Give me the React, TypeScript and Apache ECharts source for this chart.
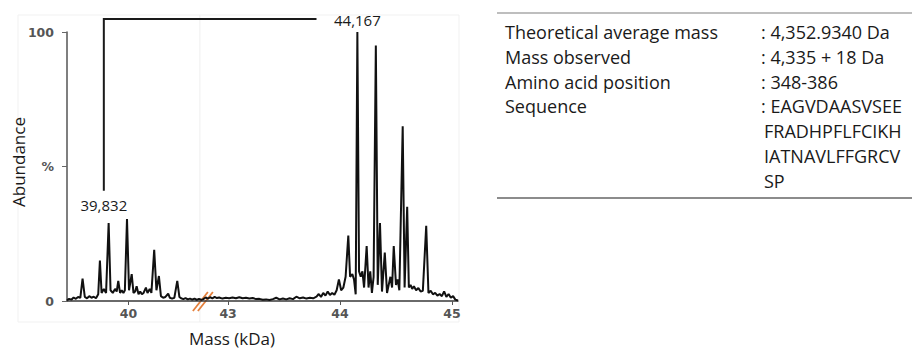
import React, { useEffect, useRef } from "react";
import * as echarts from "echarts";

// Mass spectrum (mass in kDa, relative abundance in %)
const massKDa = [
  39.451, 39.47, 39.49, 39.51, 39.53, 39.55, 39.57, 39.59, 39.61, 39.63, 39.65, 39.67, 39.69, 39.71, 39.73,
  39.745, 39.76, 39.78, 39.8, 39.823, 39.84, 39.86, 39.88, 39.895, 39.909, 39.925, 39.94, 39.955, 39.968,
  39.987, 40.005, 40.029, 40.045, 40.06, 40.073, 40.09, 40.105, 40.12, 40.135, 40.156, 40.17, 40.19, 40.205,
  40.23, 40.25, 40.272, 40.29, 40.31, 40.33, 40.355, 40.37, 40.39, 40.41, 40.436, 40.455, 40.47, 40.49, 40.51,
  40.53, 40.55, 40.57, 40.59, 40.61, 40.63, 40.65, 40.665,
  42.775, 42.8, 42.82, 42.84, 42.86, 42.88, 42.9, 42.92, 42.95, 42.98, 43.01, 43.04, 43.07, 43.1, 43.13, 43.16,
  43.19, 43.22, 43.25, 43.28, 43.31, 43.34, 43.37, 43.4, 43.43, 43.46, 43.49, 43.52, 43.55, 43.58, 43.61, 43.64,
  43.67, 43.7, 43.73, 43.76, 43.79, 43.81, 43.83, 43.85, 43.87, 43.89, 43.91, 43.93, 43.95, 43.97, 43.99, 44.01,
  44.03, 44.05, 44.074, 44.09, 44.11, 44.125, 44.14, 44.155, 44.17, 44.185, 44.2, 44.215, 44.238, 44.255, 44.27,
  44.285, 44.3, 44.32, 44.337, 44.357, 44.375, 44.4, 44.42, 44.435, 44.45, 44.465, 44.48, 44.5, 44.515, 44.53,
  44.56, 44.577, 44.6, 44.615, 44.63, 44.645, 44.66, 44.68, 44.7, 44.72, 44.74, 44.77, 44.79, 44.81, 44.83, 44.85,
  44.87, 44.89, 44.91, 44.93, 44.95, 44.97, 44.99, 45.01, 45.03, 45.054,
];
const abundance = [
  0.3, 0.8, 0.5, 1.3, 0.8, 1.5, 1.2, 8.3, 1.5, 1.0, 1.8, 1.2, 1.6, 1.0, 2.5,
  15, 3, 4.5, 3, 29, 4, 3, 4.5, 3.5, 7.5, 3, 4, 3, 4,
  30.5, 4, 10, 3, 3.5, 5.5, 2.5, 3.5, 2.5, 3, 5, 3, 4.5, 3,
  19, 4, 9.3, 1.8, 1.2, 1.5, 2.7, 1.2, 0.9, 1.2, 7.5, 1.5, 1.0, 0.7, 1.1,
  0.6, 0.9, 0.5, 0.9, 0.4, 0.8, 0.5, 0.6,
  0.8, 1.3, 0.9, 1.4, 1.0, 1.5, 1.1, 1.3, 0.9, 1.2, 1.0, 1.3, 1.0, 1.4, 1.0, 1.2,
  0.9, 1.1, 0.7, 0.8, 0.5, 0.6, 0.4, 0.7, 1.2, 0.6, 0.9, 0.6, 1.0, 0.7, 1.6, 1.0,
  1.3, 0.9, 1.2, 1.0, 1.6, 2.6, 1.5, 3.0, 2.0, 3.5, 2.2, 3.0, 2.3, 4.0, 8, 4,
  5, 9, 24.3, 9, 10, 8, 2.5, 100, 11, 9, 11, 5, 20.4, 5, 11,
  3, 9, 95, 6, 29, 3.5, 18, 3, 6, 9, 5, 20.4, 6, 8, 4,
  65, 5, 35, 5, 6, 4.5, 5.5, 4, 4.8, 3.5, 3.8, 28, 3, 3.8, 2.5, 3,
  2, 2.6, 1.8, 3.6, 1.5, 2.6, 1.2, 1.8, 0.5, 0.2,
];

// Broken x axis (kDa)
const breakStart = 40.665;
const breakEnd = 42.775;
const xMin = 39.451;
const xMax = 45.054;
const xTicks = [40, 43, 44, 45];
const yTicks = [0, 50, 100];
const yTickLabels = ["0", "%", "100"];

// Annotation: bracket from the 39,832 species to the 44,167 species
const peakLabels = ["39,832", "44,167"];
const bracketMass = 39.78;
const bracketBottom = 41;
const bracketTop = 104.8;
const bracketEndMass = 43.79;
const lowLabelAbund = 35.7;
const highLabelMass = 44.155;

// Table
const tableLabels = ["Theoretical average mass", "Mass observed", "Amino acid position", "Sequence"];
const tableValues = [": 4,352.9340 Da", ": 4,335 + 18 Da", ": 348-386", ": EAGVDAASVSEE"];
const sequenceContinuation = ["FRADHPFLFCIKH", "IATNAVLFFGRCV", "SP"];

export default function App() {
  const ref = useRef<HTMLDivElement>(null);

  useEffect(() => {
    document.body.style.margin = "0";
    const chart = echarts.init(ref.current!, null, { renderer: "svg" });
    const gap = breakEnd - breakStart;
    const toAxis = (m: number) => (m <= breakStart + 1e-9 ? m : m - gap);
    const fromAxis = (v: number) => (v <= breakStart + 1e-9 ? v : v + gap);
    const data = massKDa.map((m, i) => [toAxis(m), abundance[i]]);
    const tickVals = xTicks.map(toAxis);
    const labelFont = "DejaVu Sans";

    chart.setOption({
      animation: false,
      grid: { left: 67, right: 454, top: 32, bottom: 48 },
      xAxis: {
        type: "value",
        min: toAxis(xMin),
        max: toAxis(xMax),
        splitLine: { show: false },
        axisLine: { show: true, lineStyle: { color: "#3a3a3a", width: 1.5 } },
        axisTick: { show: true, customValues: tickVals, length: 4, lineStyle: { color: "#555", width: 1 } },
        axisLabel: {
          customValues: tickVals,
          margin: 6,
          fontFamily: labelFont,
          fontWeight: "bold",
          fontSize: 12.5,
          color: "#555",
          formatter: (v: number) => String(Math.round(fromAxis(v))),
        },
      },
      yAxis: {
        type: "value",
        min: 0,
        max: 100,
        interval: 50,
        splitLine: { show: false },
        axisLine: { show: true, lineStyle: { color: "#555", width: 1.5 } },
        axisTick: { show: true, length: 5, lineStyle: { color: "#666" } },
        axisLabel: {
          margin: 13,
          fontFamily: labelFont,
          fontWeight: "bold",
          fontSize: 12.5,
          color: "#555",
          formatter: (v: number) => yTickLabels[yTicks.indexOf(v)] ?? "",
        },
      },
      series: [
        {
          type: "line",
          data,
          showSymbol: false,
          symbol: "none",
          lineStyle: { color: "#111", width: 2 },
          clip: false,
        },
      ],
    });

    const px = (m: number, a: number) => chart.convertToPixel({ gridIndex: 0 }, [toAxis(m), a]) as number[];
    const b0 = px(bracketMass, bracketBottom);
    const b1 = px(bracketMass, bracketTop);
    const b2 = px(bracketEndMass, bracketTop);
    const lowLab = px(bracketMass, lowLabelAbund);
    const highLab = px(highLabelMass, bracketTop);
    const brk = px(breakStart, 0);

    const textFont = "Open Sans";
    const tStyle = (text: string, size: number, extra: any = {}) => ({
      text,
      fontFamily: textFont,
      fontSize: size,
      fill: "#1a1a1a",
      ...extra,
    });

    const rowY0 = 32;
    const rowH = 24.8;
    const tSize = 18;
    const tableGraphics: any[] = [];
    tableLabels.forEach((lab, i) => {
      tableGraphics.push({
        type: "text",
        x: 505,
        y: rowY0 + i * rowH,
        style: tStyle(lab, tSize, { verticalAlign: "middle" }),
      });
      tableGraphics.push({
        type: "text",
        x: 761,
        y: rowY0 + i * rowH,
        style: tStyle(tableValues[i], tSize, { verticalAlign: "middle" }),
      });
    });
    sequenceContinuation.forEach((s, j) => {
      tableGraphics.push({
        type: "text",
        x: 764,
        y: rowY0 + (tableLabels.length + j) * rowH,
        style: tStyle(s, tSize, { verticalAlign: "middle" }),
      });
    });

    chart.setOption({
      graphic: [
        // faint frame of the original figure
        {
          type: "rect",
          shape: { x: 18, y: 15, width: 441, height: 307 },
          style: { fill: "none", stroke: "#f1f1f1", lineWidth: 1 },
          silent: true,
        },
        {
          type: "line",
          shape: { x1: brk[0] - 3, y1: 15, x2: brk[0] - 3, y2: 322 },
          style: { stroke: "#efefef", lineWidth: 1 },
          silent: true,
        },
        // bracket
        {
          type: "polyline",
          shape: { points: [b0, b1, b2] },
          style: { stroke: "#1a1a1a", lineWidth: 2, fill: "none" },
        },
        {
          type: "text",
          x: lowLab[0],
          y: lowLab[1],
          style: tStyle(peakLabels[0], 15, { align: "center", verticalAlign: "middle" }),
        },
        {
          type: "text",
          x: highLab[0],
          y: highLab[1] + 1,
          style: tStyle(peakLabels[1], 15, { align: "center", verticalAlign: "middle" }),
        },
        // axis break marks
        {
          type: "line",
          shape: { x1: brk[0] - 10, y1: brk[1] + 10, x2: brk[0] + 5, y2: brk[1] - 9 },
          style: { stroke: "#e5803c", lineWidth: 1.8 },
        },
        {
          type: "line",
          shape: { x1: brk[0] - 5, y1: brk[1] + 10, x2: brk[0] + 10, y2: brk[1] - 9 },
          style: { stroke: "#e5803c", lineWidth: 1.8 },
        },
        // axis names
        {
          type: "text",
          x: 232,
          y: 338,
          style: tStyle("Mass (kDa)", 17, { align: "center", verticalAlign: "middle" }),
        },
        {
          type: "text",
          x: 18,
          y: 162,
          rotation: Math.PI / 2,
          style: tStyle("Abundance", 17, { align: "center", verticalAlign: "middle" }),
        },
        // table rules
        {
          type: "line",
          shape: { x1: 497, y1: 13, x2: 912, y2: 13 },
          style: { stroke: "#a8a8a8", lineWidth: 1.5 },
        },
        {
          type: "line",
          shape: { x1: 497, y1: 198, x2: 912, y2: 198 },
          style: { stroke: "#666", lineWidth: 1.5 },
        },
        ...tableGraphics,
      ],
    });

    return () => chart.dispose();
  }, []);

  return <div ref={ref} style={{ width: 912, height: 349 }} />;
}
